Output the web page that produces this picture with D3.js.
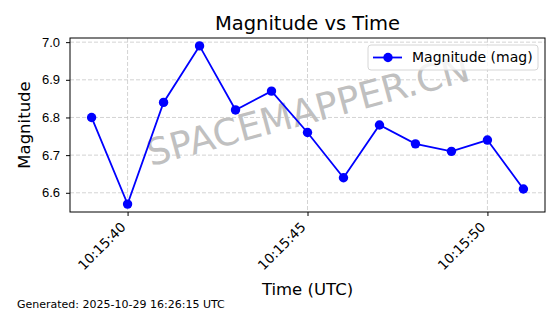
<!DOCTYPE html>
<html>
<head>
<meta charset="utf-8">
<script src="https://cdn.jsdelivr.net/npm/d3@7"></script>
<style>
  body { margin: 0; background: #fff; }
  svg { display: block; font-family: "DejaVu Sans", sans-serif; }
</style>
</head>
<body>
<div id="chart"></div>
<script>
// seconds past 10:15:00 UTC
const seconds = [39, 40, 41, 42, 43, 44, 45, 46, 47, 48, 49, 50, 51];
const magnitudes = [6.80, 6.57, 6.84, 6.99, 6.82, 6.87, 6.76, 6.64, 6.78, 6.73, 6.71, 6.74, 6.61];
const xTicks = [40, 45, 50];
const yTicks = [6.6, 6.7, 6.8, 6.9, 7.0];

const width = 560;
const height = 314;
const margin = ({ left: 70, right: 15, top: 38, bottom: 102 });
const chartWidth = width - margin.left - margin.right;
const chartHeight = height - margin.top - margin.bottom;

const base = new Date(Date.UTC(2025, 9, 29, 10, 15, 0));
const toDate = s => new Date(base.getTime() + s * 1000);
const data = seconds.map((s, i) => ({ date: toDate(s), value: magnitudes[i] }));

// matplotlib-style 5% padding
const xPad = (d3.max(seconds) - d3.min(seconds)) * 0.05;
const yPad = (d3.max(magnitudes) - d3.min(magnitudes)) * 0.05;

const xScale = d3.scaleUtc()
  .domain([toDate(d3.min(seconds) - xPad), toDate(d3.max(seconds) + xPad)])
  .range([0, chartWidth]);

const yScale = d3.scaleLinear()
  .domain([d3.min(magnitudes) - yPad, d3.max(magnitudes) + yPad])
  .range([chartHeight, 0]);

const svg = d3.select("#chart").append("svg")
  .attr("width", width)
  .attr("height", height);

const g = svg.append("g")
  .attr("transform", `translate(${margin.left}, ${margin.top})`);

// grid
g.append("g")
  .selectAll("line")
  .data(xTicks)
  .enter().append("line")
  .attr("x1", d => xScale(toDate(d))).attr("x2", d => xScale(toDate(d)))
  .attr("y1", 0).attr("y2", chartHeight)
  .attr("stroke", "#c8c8c8").attr("stroke-dasharray", "4,2").attr("stroke-width", 0.8);

g.append("g")
  .selectAll("line")
  .data(yTicks)
  .enter().append("line")
  .attr("x1", 0).attr("x2", chartWidth)
  .attr("y1", d => yScale(d)).attr("y2", d => yScale(d))
  .attr("stroke", "#c8c8c8").attr("stroke-dasharray", "4,2").attr("stroke-width", 0.8);

// watermark
g.append("text")
  .attr("transform", `translate(${chartWidth * 0.5 + 1}, ${chartHeight * 0.5 - 12}) rotate(-15)`)
  .attr("text-anchor", "middle")
  .attr("dominant-baseline", "middle")
  .style("font-size", "37px")
  .attr("fill", "#c0c0c0")
  .text("SPACEMAPPER.CN");

// axes
const xAxisGenerator = d3.axisBottom(xScale)
  .tickValues(xTicks.map(toDate))
  .tickFormat(() => "")
  .tickSizeOuter(0).tickSize(4);

const yAxisGenerator = d3.axisLeft(yScale)
  .tickValues(yTicks)
  .tickFormat(d3.format(".1f"))
  .tickSizeOuter(0).tickSize(4).tickPadding(6);

const xAxis = g.append("g")
  .attr("transform", `translate(0, ${chartHeight})`)
  .call(xAxisGenerator);
xAxis.select(".domain").remove();

// rotated time labels, drawn separately so the font size is certain
const fmt = d3.utcFormat("%H:%M:%S");
g.append("g")
  .selectAll("text")
  .data(xTicks)
  .enter().append("text")
  .attr("text-anchor", "end")
  .attr("font-size", 13.5)
  .attr("fill", "#000")
  .attr("transform", d => `translate(${xScale(toDate(d)) - 1}, ${chartHeight + 16}) rotate(-45)`)
  .text(d => fmt(toDate(d)));

const yAxis = g.append("g").call(yAxisGenerator);
yAxis.select(".domain").remove();
yAxis.selectAll("text").attr("font-size", 13).attr("fill", "#000");
yAxis.attr("font-size", 13);

// line + markers
const lineGenerator = d3.line()
  .x(d => xScale(d.date))
  .y(d => yScale(d.value));

g.append("path")
  .datum(data)
  .attr("d", lineGenerator)
  .attr("fill", "none")
  .attr("stroke", "#0000ff")
  .attr("stroke-width", 1.8);

g.selectAll(".pt")
  .data(data)
  .enter().append("circle")
  .attr("class", "pt")
  .attr("cx", d => xScale(d.date))
  .attr("cy", d => yScale(d.value))
  .attr("r", 4.7)
  .attr("fill", "#0000ff");

// frame
g.append("rect")
  .attr("width", chartWidth).attr("height", chartHeight)
  .attr("fill", "none").attr("stroke", "#000").attr("stroke-width", 1);

// legend
const legend = g.append("g").attr("transform", `translate(${chartWidth - 177}, 7)`);
legend.append("rect")
  .attr("width", 170).attr("height", 25).attr("rx", 3)
  .attr("fill", "#fff").attr("fill-opacity", 0.8)
  .attr("stroke", "#d6d6d6");
legend.append("line")
  .attr("x1", 5).attr("x2", 34).attr("y1", 12.5).attr("y2", 12.5)
  .attr("stroke", "#0000ff").attr("stroke-width", 1.8);
legend.append("circle").attr("cx", 20).attr("cy", 12.5).attr("r", 4.7).attr("fill", "#0000ff");
legend.append("text")
  .attr("x", 44).attr("y", 12.5).attr("dy", "0.35em")
  .style("font-size", "14px")
  .text("Magnitude (mag)");

// titles
svg.append("text")
  .attr("x", margin.left + chartWidth / 2).attr("y", 30)
  .attr("text-anchor", "middle")
  .style("font-size", "19.5px")
  .text("Magnitude vs Time");

svg.append("text")
  .attr("x", margin.left + chartWidth / 2).attr("y", 295)
  .attr("text-anchor", "middle")
  .style("font-size", "16.5px")
  .text("Time (UTC)");

svg.append("text")
  .attr("transform", `translate(30, ${margin.top + chartHeight / 2}) rotate(-90)`)
  .attr("text-anchor", "middle")
  .style("font-size", "16.5px")
  .text("Magnitude");

svg.append("text")
  .attr("x", 17).attr("y", 308)
  .style("font-size", "11px")
  .text("Generated: 2025-10-29 16:26:15 UTC");
</script>
</body>
</html>
